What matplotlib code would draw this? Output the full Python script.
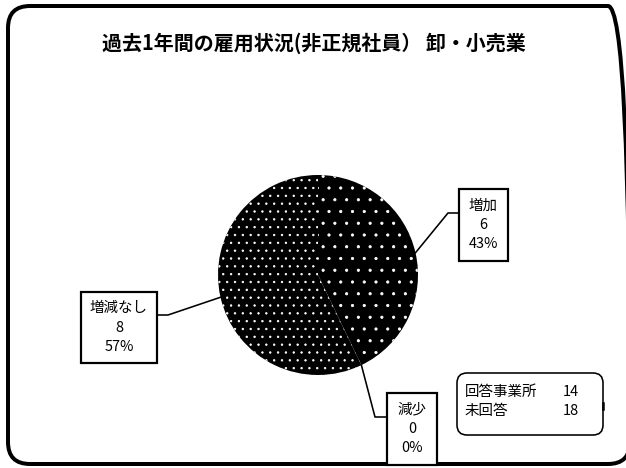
import matplotlib
matplotlib.use("Agg")
import matplotlib.pyplot as plt
import numpy as np
from matplotlib.patches import FancyBboxPatch, Rectangle

# データ
title = "過去1年間の雇用状況(非正規社員） 卸・小売業"
categories = ["増加", "減少", "増減なし"]
counts = [6, 0, 8]
info_labels = ["回答事業所", "未回答"]
info_values = [14, 18]

W, H = 626, 468
DPI = 141  # ハッチの点の間隔を参照に合わせるため


def fs(px):
    # ピクセル -> ポイント
    return px * 72 / DPI


def Y(y):
    # 画像座標(上から) -> データ座標(下から)
    return H - y


plt.rcParams['font.family'] = ['Noto Sans CJK JP', 'DejaVu Sans']
plt.rcParams['hatch.linewidth'] = 0.4

fig = plt.figure(figsize=(W / DPI, H / DPI), dpi=DPI)
ax = fig.add_axes([0, 0, 1, 1])

cx, cy, r = 318, Y(275), 100
wedges, _ = ax.pie(counts, startangle=90, counterclock=False, center=(cx, cy),
                   radius=r, colors=["black"] * 3, wedgeprops=dict(linewidth=0))
hatches = ["..", "..", "..."]
for w, h in zip(wedges, hatches):
    w.set_hatch(h)
    w.set_edgecolor("white")
    w.set_linewidth(0)

ax.set_xlim(0, W)
ax.set_ylim(0, H)
ax.set_aspect("equal")
ax.axis("off")

# 外枠
ax.add_patch(FancyBboxPatch((8, Y(464)), 622, 458, boxstyle="round,pad=0,rounding_size=22",
                            fc="none", ec="black", lw=fs(4), clip_on=False))

ax.text(314, Y(43), title, ha="center", va="center", fontsize=fs(20), fontweight="bold")

# ラベル (箱の位置, 折れ点, 箱への接続点)
total = sum(counts)
boxes = {
    "増加": ((459, 189, 49, 72), (448, 213), (459, 213)),
    "減少": ((387, 393, 50, 72), (375, 417), (387, 417)),
    "増減なし": ((81, 292, 76, 71), (168, 315), (157, 315)),
}
for w, cat, n in zip(wedges, categories, counts):
    (bx, by, bw, bh), elbow, join = boxes[cat]
    mid = np.deg2rad((w.theta1 + w.theta2) / 2)
    ex, ey = cx + r * np.cos(mid), cy + r * np.sin(mid)
    ax.plot([ex, elbow[0], join[0]], [ey, Y(elbow[1]), Y(join[1])], color="black", lw=fs(1.6))
    ax.add_patch(Rectangle((bx, Y(by + bh)), bw, bh, fc="white", ec="black", lw=fs(2.2), zorder=3))
    pct = round(n / total * 100)
    ax.text(bx + bw / 2, Y(by + bh / 2), f"{cat}\n{n}\n{pct}%", ha="center", va="center",
            fontsize=fs(14.5), linespacing=1.5, zorder=4)

# 回答数の箱
ax.add_patch(FancyBboxPatch((457, Y(435)), 146, 62, boxstyle="round,pad=0,rounding_size=10",
                            fc="white", ec="black", lw=fs(1.6)))
ax.plot([603, 603], [Y(403), Y(409)], color="black", lw=fs(2.5))
for i, (lab, v) in enumerate(zip(info_labels, info_values)):
    yy = Y(392 + i * 19)
    ax.text(465, yy, lab, ha="left", va="center", fontsize=fs(14.5))
    ax.text(563, yy, str(v), ha="left", va="center", fontsize=fs(14.5))

fig.savefig("out.png", dpi=DPI)
